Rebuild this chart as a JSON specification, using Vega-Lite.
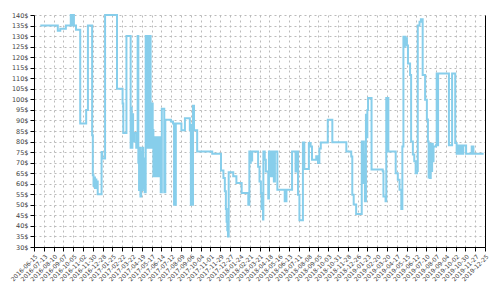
{
  "$schema": "https://vega.github.io/schema/vega-lite/v6.json",
  "width": 451,
  "height": 232,
  "autosize": {"type": "none"},
  "padding": {"left": 34, "top": 15, "right": 15, "bottom": 53},
  "background": "white",
  "config": {
    "view": {"stroke": null},
    "axis": {
      "labelFont": "DejaVu Sans",
      "labelColor": "#444444",
      "domainColor": "#000000",
      "tickColor": "#000000",
      "tickSize": 4,
      "gridColor": "#bbbbbb",
      "gridDash": [2, 3],
      "gridWidth": 1,
      "labelOverlap": false,
      "labelBound": false,
      "labelFlush": false,
      "title": null
    }
  },
  "data": {
    "values": [
      {"date": "2016-07-03", "price": 135},
      {"date": "2016-08-22", "price": 132.5},
      {"date": "2016-08-29", "price": 133.5},
      {"date": "2016-09-14", "price": 135},
      {"date": "2016-09-28", "price": 140},
      {"date": "2016-09-30", "price": 135},
      {"date": "2016-10-01", "price": 140},
      {"date": "2016-10-03", "price": 135},
      {"date": "2016-10-05", "price": 140},
      {"date": "2016-10-07", "price": 135},
      {"date": "2016-10-13", "price": 133},
      {"date": "2016-10-25", "price": 88.5},
      {"date": "2016-11-11", "price": 95},
      {"date": "2016-11-16", "price": 135},
      {"date": "2016-11-28", "price": 83},
      {"date": "2016-11-30", "price": 64},
      {"date": "2016-12-02", "price": 59},
      {"date": "2016-12-04", "price": 63},
      {"date": "2016-12-06", "price": 58},
      {"date": "2016-12-08", "price": 62},
      {"date": "2016-12-10", "price": 58},
      {"date": "2016-12-12", "price": 61},
      {"date": "2016-12-14", "price": 55},
      {"date": "2016-12-25", "price": 75},
      {"date": "2016-12-27", "price": 72},
      {"date": "2017-01-04", "price": 140},
      {"date": "2017-02-07", "price": 105},
      {"date": "2017-02-23", "price": 98},
      {"date": "2017-02-25", "price": 84},
      {"date": "2017-03-06", "price": 130},
      {"date": "2017-03-18", "price": 77},
      {"date": "2017-03-19", "price": 96},
      {"date": "2017-03-21", "price": 77},
      {"date": "2017-03-23", "price": 93},
      {"date": "2017-03-25", "price": 80},
      {"date": "2017-03-28", "price": 84},
      {"date": "2017-04-03", "price": 77},
      {"date": "2017-04-07", "price": 130},
      {"date": "2017-04-09", "price": 70},
      {"date": "2017-04-11", "price": 57},
      {"date": "2017-04-13", "price": 77},
      {"date": "2017-04-15", "price": 54},
      {"date": "2017-04-17", "price": 75},
      {"date": "2017-04-19", "price": 57},
      {"date": "2017-04-21", "price": 77},
      {"date": "2017-04-23", "price": 58},
      {"date": "2017-04-25", "price": 72},
      {"date": "2017-04-27", "price": 56},
      {"date": "2017-04-30", "price": 130},
      {"date": "2017-05-02", "price": 77},
      {"date": "2017-05-04", "price": 130},
      {"date": "2017-05-06", "price": 77},
      {"date": "2017-05-08", "price": 130},
      {"date": "2017-05-10", "price": 77},
      {"date": "2017-05-12", "price": 130},
      {"date": "2017-05-14", "price": 77},
      {"date": "2017-05-17", "price": 98},
      {"date": "2017-05-20", "price": 85.5},
      {"date": "2017-05-22", "price": 63.5},
      {"date": "2017-05-24", "price": 82},
      {"date": "2017-05-26", "price": 63.5},
      {"date": "2017-05-28", "price": 82},
      {"date": "2017-05-30", "price": 63.5},
      {"date": "2017-06-01", "price": 82},
      {"date": "2017-06-03", "price": 63.5},
      {"date": "2017-06-05", "price": 82},
      {"date": "2017-06-07", "price": 63.5},
      {"date": "2017-06-09", "price": 82},
      {"date": "2017-06-12", "price": 56},
      {"date": "2017-06-15", "price": 95.5},
      {"date": "2017-06-22", "price": 56},
      {"date": "2017-06-25", "price": 90.3},
      {"date": "2017-07-11", "price": 89.5},
      {"date": "2017-07-17", "price": 88.5},
      {"date": "2017-07-20", "price": 50},
      {"date": "2017-07-25", "price": 88.5},
      {"date": "2017-08-10", "price": 85.3},
      {"date": "2017-08-20", "price": 91},
      {"date": "2017-09-03", "price": 85.3},
      {"date": "2017-09-06", "price": 50},
      {"date": "2017-09-08", "price": 88},
      {"date": "2017-09-10", "price": 50},
      {"date": "2017-09-12", "price": 97},
      {"date": "2017-09-15", "price": 85.3},
      {"date": "2017-09-24", "price": 75.3},
      {"date": "2017-11-06", "price": 74.2},
      {"date": "2017-12-01", "price": 66.3},
      {"date": "2017-12-08", "price": 62.7},
      {"date": "2017-12-12", "price": 56.4},
      {"date": "2017-12-15", "price": 48},
      {"date": "2017-12-17", "price": 42},
      {"date": "2017-12-19", "price": 38},
      {"date": "2017-12-21", "price": 35},
      {"date": "2017-12-23", "price": 65.5},
      {"date": "2018-01-05", "price": 63.5},
      {"date": "2018-01-14", "price": 60.3},
      {"date": "2018-01-29", "price": 55.6},
      {"date": "2018-02-17", "price": 50},
      {"date": "2018-02-20", "price": 75.3},
      {"date": "2018-02-22", "price": 70},
      {"date": "2018-02-24", "price": 75.3},
      {"date": "2018-02-26", "price": 71},
      {"date": "2018-02-28", "price": 75.3},
      {"date": "2018-03-17", "price": 68},
      {"date": "2018-03-21", "price": 61},
      {"date": "2018-03-25", "price": 55.6},
      {"date": "2018-03-27", "price": 48},
      {"date": "2018-03-29", "price": 52},
      {"date": "2018-03-31", "price": 43},
      {"date": "2018-04-01", "price": 75.3},
      {"date": "2018-04-05", "price": 71.4},
      {"date": "2018-04-08", "price": 65.8},
      {"date": "2018-04-15", "price": 53},
      {"date": "2018-04-17", "price": 75.3},
      {"date": "2018-04-19", "price": 63.5},
      {"date": "2018-04-21", "price": 75.3},
      {"date": "2018-04-23", "price": 63.5},
      {"date": "2018-04-25", "price": 75.3},
      {"date": "2018-04-27", "price": 63.5},
      {"date": "2018-04-28", "price": 75.3},
      {"date": "2018-05-01", "price": 61},
      {"date": "2018-05-04", "price": 75.3},
      {"date": "2018-05-11", "price": 57.2},
      {"date": "2018-06-01", "price": 51.7},
      {"date": "2018-06-06", "price": 57.2},
      {"date": "2018-06-22", "price": 75.3},
      {"date": "2018-07-02", "price": 65.8},
      {"date": "2018-07-06", "price": 75.3},
      {"date": "2018-07-09", "price": 54.8},
      {"date": "2018-07-13", "price": 42.7},
      {"date": "2018-07-23", "price": 79.6},
      {"date": "2018-07-27", "price": 67},
      {"date": "2018-08-09", "price": 79.3},
      {"date": "2018-08-14", "price": 77.7},
      {"date": "2018-08-18", "price": 71.4},
      {"date": "2018-08-30", "price": 73},
      {"date": "2018-09-04", "price": 69.8},
      {"date": "2018-09-08", "price": 76.7},
      {"date": "2018-09-12", "price": 79.6},
      {"date": "2018-10-02", "price": 90.3},
      {"date": "2018-10-15", "price": 79.7},
      {"date": "2018-11-24", "price": 75.3},
      {"date": "2018-12-08", "price": 72.9},
      {"date": "2018-12-11", "price": 54.8},
      {"date": "2018-12-15", "price": 50.1},
      {"date": "2018-12-22", "price": 45.7},
      {"date": "2019-01-07", "price": 80},
      {"date": "2019-01-09", "price": 60.3},
      {"date": "2019-01-11", "price": 80},
      {"date": "2019-01-13", "price": 73.8},
      {"date": "2019-01-16", "price": 51.7},
      {"date": "2019-01-19", "price": 92.7},
      {"date": "2019-01-21", "price": 82},
      {"date": "2019-01-23", "price": 95},
      {"date": "2019-01-25", "price": 100.6},
      {"date": "2019-02-04", "price": 66.7},
      {"date": "2019-03-08", "price": 65.9},
      {"date": "2019-03-10", "price": 54},
      {"date": "2019-03-16", "price": 51.7},
      {"date": "2019-03-18", "price": 100.6},
      {"date": "2019-03-20", "price": 75.3},
      {"date": "2019-03-22", "price": 100.6},
      {"date": "2019-03-24", "price": 75.3},
      {"date": "2019-04-14", "price": 65},
      {"date": "2019-04-20", "price": 61.9},
      {"date": "2019-04-25", "price": 57.2},
      {"date": "2019-04-30", "price": 48},
      {"date": "2019-05-03", "price": 77.7},
      {"date": "2019-05-06", "price": 129.7},
      {"date": "2019-05-08", "price": 125},
      {"date": "2019-05-10", "price": 129.7},
      {"date": "2019-05-12", "price": 126},
      {"date": "2019-05-14", "price": 129},
      {"date": "2019-05-16", "price": 125.5},
      {"date": "2019-05-19", "price": 117},
      {"date": "2019-05-25", "price": 111.6},
      {"date": "2019-05-28", "price": 80},
      {"date": "2019-06-02", "price": 73.8},
      {"date": "2019-06-06", "price": 70.6},
      {"date": "2019-06-10", "price": 65},
      {"date": "2019-06-14", "price": 66},
      {"date": "2019-06-16", "price": 135},
      {"date": "2019-06-21", "price": 136.8},
      {"date": "2019-06-25", "price": 138},
      {"date": "2019-06-30", "price": 111.6},
      {"date": "2019-07-07", "price": 99.8},
      {"date": "2019-07-12", "price": 90.5},
      {"date": "2019-07-15", "price": 80},
      {"date": "2019-07-17", "price": 63},
      {"date": "2019-07-19", "price": 79},
      {"date": "2019-07-21", "price": 62.7},
      {"date": "2019-07-23", "price": 79},
      {"date": "2019-07-25", "price": 66},
      {"date": "2019-07-27", "price": 79},
      {"date": "2019-07-29", "price": 70.6},
      {"date": "2019-07-31", "price": 77.7},
      {"date": "2019-08-07", "price": 78.3},
      {"date": "2019-08-09", "price": 112.3},
      {"date": "2019-08-11", "price": 78.3},
      {"date": "2019-08-13", "price": 112.3},
      {"date": "2019-09-13", "price": 78.3},
      {"date": "2019-09-22", "price": 112.3},
      {"date": "2019-10-01", "price": 79.3},
      {"date": "2019-10-05", "price": 74.2},
      {"date": "2019-10-08", "price": 78.1},
      {"date": "2019-10-10", "price": 74.2},
      {"date": "2019-10-13", "price": 78.1},
      {"date": "2019-10-15", "price": 74.2},
      {"date": "2019-10-18", "price": 78.1},
      {"date": "2019-10-20", "price": 74.2},
      {"date": "2019-10-24", "price": 78.1},
      {"date": "2019-11-01", "price": 74.2},
      {"date": "2019-11-17", "price": 77.7},
      {"date": "2019-11-22", "price": 74.2},
      {"date": "2019-12-21", "price": 74.2}
    ]
  },
  "encoding": {
    "x": {
      "field": "date",
      "type": "temporal",
      "scale": {
        "type": "utc",
        "domain": [
          {"year": 2016, "month": 6, "date": 15, "utc": true},
          {"year": 2019, "month": 12, "date": 25, "utc": true}
        ],
        "nice": false
      },
      "axis": {
        "labelExpr": "utcFormat(datum.value, '%Y-%m-%d')",
        "labelAngle": -45,
        "labelAlign": "right",
        "labelBaseline": "top",
        "labelFontSize": 6,
        "labelPadding": 2,
        "grid": true,
        "values": [
          {"year": 2016, "month": 6, "date": 15, "utc": true},
          {"year": 2016, "month": 7, "date": 13, "utc": true},
          {"year": 2016, "month": 8, "date": 10, "utc": true},
          {"year": 2016, "month": 9, "date": 7, "utc": true},
          {"year": 2016, "month": 10, "date": 5, "utc": true},
          {"year": 2016, "month": 11, "date": 2, "utc": true},
          {"year": 2016, "month": 11, "date": 30, "utc": true},
          {"year": 2016, "month": 12, "date": 28, "utc": true},
          {"year": 2017, "month": 1, "date": 25, "utc": true},
          {"year": 2017, "month": 2, "date": 22, "utc": true},
          {"year": 2017, "month": 3, "date": 22, "utc": true},
          {"year": 2017, "month": 4, "date": 19, "utc": true},
          {"year": 2017, "month": 5, "date": 17, "utc": true},
          {"year": 2017, "month": 6, "date": 14, "utc": true},
          {"year": 2017, "month": 7, "date": 12, "utc": true},
          {"year": 2017, "month": 8, "date": 9, "utc": true},
          {"year": 2017, "month": 9, "date": 6, "utc": true},
          {"year": 2017, "month": 10, "date": 4, "utc": true},
          {"year": 2017, "month": 11, "date": 1, "utc": true},
          {"year": 2017, "month": 11, "date": 29, "utc": true},
          {"year": 2017, "month": 12, "date": 27, "utc": true},
          {"year": 2018, "month": 1, "date": 24, "utc": true},
          {"year": 2018, "month": 2, "date": 21, "utc": true},
          {"year": 2018, "month": 3, "date": 21, "utc": true},
          {"year": 2018, "month": 4, "date": 18, "utc": true},
          {"year": 2018, "month": 5, "date": 16, "utc": true},
          {"year": 2018, "month": 6, "date": 13, "utc": true},
          {"year": 2018, "month": 7, "date": 11, "utc": true},
          {"year": 2018, "month": 8, "date": 8, "utc": true},
          {"year": 2018, "month": 9, "date": 5, "utc": true},
          {"year": 2018, "month": 10, "date": 3, "utc": true},
          {"year": 2018, "month": 10, "date": 31, "utc": true},
          {"year": 2018, "month": 11, "date": 28, "utc": true},
          {"year": 2018, "month": 12, "date": 26, "utc": true},
          {"year": 2019, "month": 1, "date": 23, "utc": true},
          {"year": 2019, "month": 2, "date": 20, "utc": true},
          {"year": 2019, "month": 3, "date": 20, "utc": true},
          {"year": 2019, "month": 4, "date": 17, "utc": true},
          {"year": 2019, "month": 5, "date": 15, "utc": true},
          {"year": 2019, "month": 6, "date": 12, "utc": true},
          {"year": 2019, "month": 7, "date": 10, "utc": true},
          {"year": 2019, "month": 8, "date": 7, "utc": true},
          {"year": 2019, "month": 9, "date": 4, "utc": true},
          {"year": 2019, "month": 10, "date": 2, "utc": true},
          {"year": 2019, "month": 10, "date": 30, "utc": true},
          {"year": 2019, "month": 11, "date": 27, "utc": true},
          {"year": 2019, "month": 12, "date": 25, "utc": true}
        ]
      }
    }
  },
  "layer": [
    {
      "mark": {"type": "line", "interpolate": "step-after", "color": "#87ceeb", "strokeWidth": 2},
      "encoding": {
        "y": {
          "field": "price",
          "type": "quantitative",
          "scale": {"domain": [30, 140], "nice": false, "zero": false},
          "axis": {
            "values": [30, 35, 40, 45, 50, 55, 60, 65, 70, 75, 80, 85, 90, 95, 100, 105, 110, 115, 120, 125, 130, 135, 140],
            "labelExpr": "datum.value + '$'",
            "labelFontSize": 6.5,
            "labelPadding": 2,
            "grid": true
          }
        }
      }
    },
    {
      "mark": {"type": "line", "opacity": 0},
      "encoding": {
        "y": {
          "field": "price",
          "type": "quantitative",
          "axis": {"orient": "right", "labels": false, "ticks": false, "grid": false, "domainColor": "#000000"}
        }
      }
    }
  ],
  "resolve": {"axis": {"y": "independent"}}
}
